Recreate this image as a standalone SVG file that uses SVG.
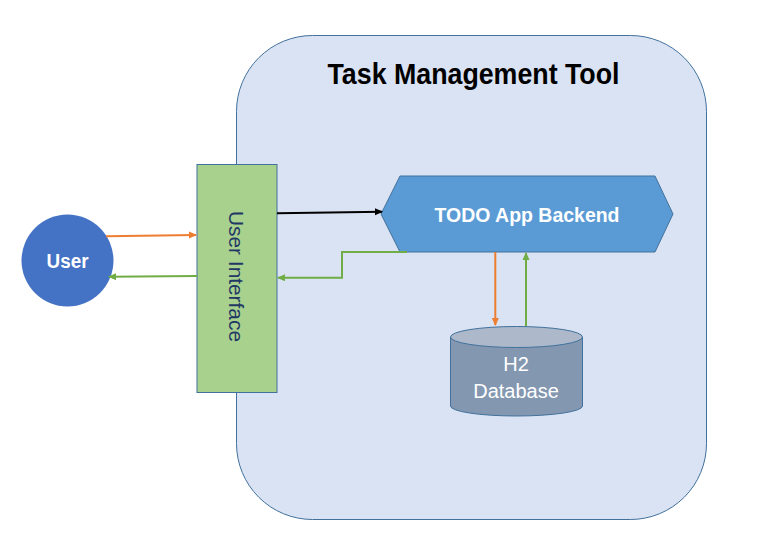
<svg xmlns="http://www.w3.org/2000/svg" width="774" height="550" viewBox="0 0 774 550">
<style>
.t{font-family:"Liberation Sans",Arial,sans-serif}
.w{fill:#fff}
.c{fill:none;stroke-width:2}
</style>
<defs>
<marker id="aO" markerWidth="8" markerHeight="8" refX="7" refY="4" orient="auto" markerUnits="userSpaceOnUse"><path d="M0,0.5 L8,4 L0,7.5 Z" fill="#ED7D31"/></marker>
<marker id="aG" markerWidth="8" markerHeight="8" refX="7" refY="4" orient="auto" markerUnits="userSpaceOnUse"><path d="M0,0.5 L8,4 L0,7.5 Z" fill="#70AD47"/></marker>
<marker id="aK" markerWidth="8" markerHeight="8" refX="7" refY="4" orient="auto" markerUnits="userSpaceOnUse"><path d="M0,0.5 L8,4 L0,7.5 Z" fill="#000"/></marker>
</defs>
<rect width="774" height="550" fill="#fff"/>
<g id="container">
<rect x="236.5" y="35.5" width="470" height="484" rx="76" ry="76" fill="#DAE3F3" stroke="#41719C" stroke-width="1"/>
<text class="t" x="473.5" y="83.5" font-size="30" font-weight="bold" text-anchor="middle" textLength="292" lengthAdjust="spacingAndGlyphs">Task Management Tool</text>
</g>
<g id="user">
<circle cx="67.5" cy="260.5" r="46" fill="#4472C4"/>
<text class="t w" x="67.5" y="267.5" font-size="19.5" font-weight="bold" text-anchor="middle" textLength="42" lengthAdjust="spacingAndGlyphs">User</text>
</g>
<g id="ui">
<rect x="197" y="164.5" width="80" height="228" fill="#A9D18E" stroke="#41719C" stroke-width="1"/>
<text class="t" transform="translate(229,276.5) rotate(90)" font-size="20" fill="#1F3864" text-anchor="middle" textLength="131" lengthAdjust="spacingAndGlyphs">User Interface</text>
</g>
<g id="backend">
<path d="M381,214 L400,176 L655,176 L673,214 L655,252 L400,252 Z" fill="#5B9BD5" stroke="#41719C" stroke-width="1"/>
<text class="t w" x="527" y="222" font-size="20.5" font-weight="bold" text-anchor="middle" textLength="185" lengthAdjust="spacingAndGlyphs">TODO App Backend</text>
</g>
<g id="database">
<path d="M450.5,337 L450.5,406 A66,10 0 0 0 582.5,406 L582.5,337" fill="#8497B0" stroke="#41719C" stroke-width="1"/>
<ellipse cx="516.5" cy="337" rx="66" ry="10.5" fill="#ADB9CA" stroke="#41719C" stroke-width="1"/>
<text class="t w" x="516" y="371" font-size="20" text-anchor="middle">H2</text>
<text class="t w" x="516" y="397.5" font-size="20" text-anchor="middle">Database</text>
</g>
<g id="connectors">
<path class="c" d="M106,236.3 L196,235" stroke="#ED7D31" marker-end="url(#aO)"/>
<path class="c" d="M197,276 L109,276.7" stroke="#70AD47" marker-end="url(#aG)"/>
<path class="c" d="M277,213.3 L382,211.7" stroke="#000" marker-end="url(#aK)"/>
<path class="c" d="M407,252 L342,252 L342,277.7 L278,277.7" stroke="#70AD47" marker-end="url(#aG)"/>
<path class="c" d="M495.3,252 L495.3,325" stroke="#ED7D31" marker-end="url(#aO)"/>
<path class="c" d="M526,326 L526,253" stroke="#70AD47" marker-end="url(#aG)"/>
</g>
</svg>
